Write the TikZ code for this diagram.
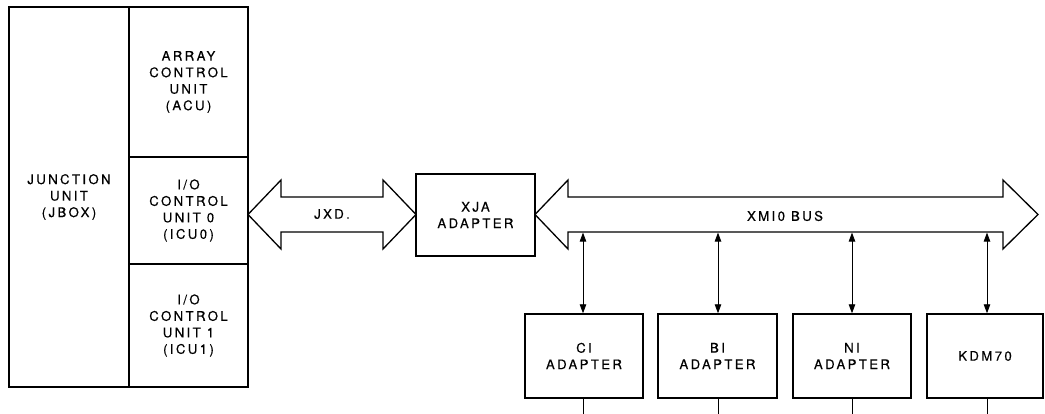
\documentclass[tikz,border=0pt]{standalone}
\usepackage{fontspec}
\newfontfamily\labfont[LetterSpace=18,FakeBold=0.35]{TeX Gyre Heros}
\usetikzlibrary{arrows.meta}
\begin{document}
\begin{tikzpicture}[x=1pt,y=-1pt,
  cell/.style={draw,line width=1.4pt,inner sep=0pt,align=center,
    font=\labfont\fontsize{13.2}{16.5}\selectfont},
  lbl/.style={inner sep=0pt,align=center,font=\labfont\fontsize{13.2}{16.5}\selectfont},
  bus/.style={draw,line width=1.3pt,line join=miter},
  link/.style={line width=0.9pt,{Triangle[length=9pt,width=6.5pt]}-{Triangle[length=9pt,width=6.5pt]}},
  tail/.style={line width=0.9pt}]
\useasboundingbox (0,0) rectangle (1045,414);
% left unit
\node[cell,minimum width=120pt,minimum height=380pt] (jbox) at (69,197) {JUNCTION\\UNIT\\(JBOX)};
\node[cell,minimum width=119pt,minimum height=150pt] (acu) at (188.5,82) {ARRAY\\CONTROL\\UNIT\\(ACU)};
\node[cell,minimum width=119pt,minimum height=107pt] (icu0) at (188.5,210.5) {I/O\\CONTROL\\UNIT 0\\(ICU0)};
\node[cell,minimum width=119pt,minimum height=123pt] (icu1) at (188.5,325.5) {I/O\\CONTROL\\UNIT 1\\(ICU1)};
% XJA adapter
\node[cell,minimum width=119pt,minimum height=82pt] (xja) at (475.5,215) {XJA\\ADAPTER};
% JXD double arrow
\draw[bus] (248,214.5) -- (281,180) -- (281,197) -- (383,197) -- (383,180) -- (416,214.5)
  -- (383,249) -- (383,232) -- (281,232) -- (281,249) -- cycle;
\node[lbl] (jxd) at (332,214) {JXD.};
% XMI bus
\draw[bus] (535,214.5) -- (568,180) -- (568,197) -- (1003,197) -- (1003,180) -- (1038,214.5)
  -- (1003,249) -- (1003,232) -- (568,232) -- (568,249) -- cycle;
\node[lbl] (xmi) at (785,216) {XMI0 BUS};
% bottom adapters
\node[cell,minimum width=118pt,minimum height=84pt] (ci) at (584,356) {CI\\ADAPTER};
\node[cell,minimum width=119pt,minimum height=84pt] (bi) at (717.5,356) {BI\\ADAPTER};
\node[cell,minimum width=118pt,minimum height=84pt] (ni) at (852,356) {NI\\ADAPTER};
\node[cell,minimum width=116pt,minimum height=84pt] (kdm) at (985,356) {KDM70};
% bus taps
\coordinate (t1) at (583,232.6);
\coordinate (t2) at (718,232.6);
\coordinate (t3) at (852,232.6);
\coordinate (t4) at (987,232.6);
\draw[link] (t1) -- (t1 |- ci.north);
\draw[link] (t2) -- (t2 |- bi.north);
\draw[link] (t3) -- (t3 |- ni.north);
\draw[link] (t4) -- (t4 |- kdm.north);
% tails below
\coordinate (b1) at (583,414);
\coordinate (b2) at (718,414);
\coordinate (b3) at (852,414);
\coordinate (b4) at (987,414);
\draw[tail] (b1 |- ci.south) -- (b1);
\draw[tail] (b2 |- bi.south) -- (b2);
\draw[tail] (b3 |- ni.south) -- (b3);
\draw[tail] (b4 |- kdm.south) -- (b4);
\end{tikzpicture}
\end{document}
